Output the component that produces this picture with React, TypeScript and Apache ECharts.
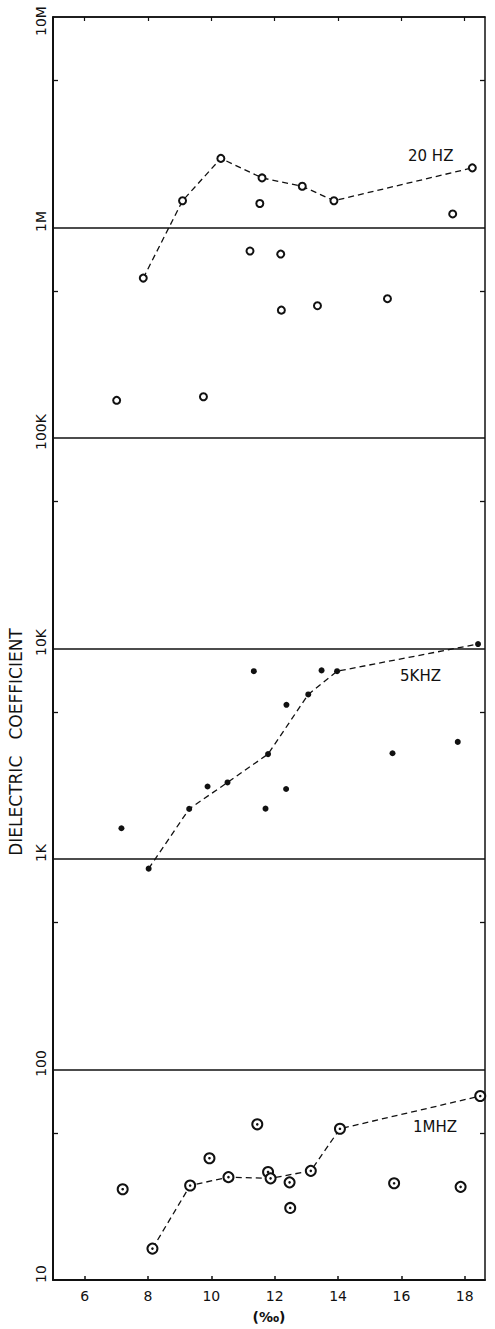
import React, { useEffect, useRef } from "react";
import * as echarts from "echarts";

const xTickValues = [6, 8, 10, 12, 14, 16, 18];
const yDecadeValues = [10, 100, 1000, 10000, 100000, 1000000, 10000000];
const yTickLabels = ["10", "100", "1K", "10K", "100K", "1M", "10M"];
const yMinorValues = [50, 500, 5000, 50000, 500000, 5000000];

const hz20Line = [[7.85, 575000], [9.09, 1340000], [10.3, 2130000], [11.6, 1720000], [12.87, 1570000], [13.87, 1340000], [18.24, 1920000]];
const hz20Other = [[11.53, 1300000], [17.62, 1160000], [11.22, 773000], [12.19, 748000], [12.21, 405000], [13.35, 425000], [15.56, 459000], [7.01, 151000], [9.75, 157000]];

const khz5Line = [[8.02, 900], [9.3, 1730], [10.51, 2310], [11.79, 3150], [13.06, 6050], [13.97, 7800], [18.42, 10500]];
const khz5Other = [[7.16, 1400], [9.88, 2210], [11.34, 7800], [13.48, 7870], [12.37, 5400], [11.71, 1735], [12.36, 2150], [15.72, 3180], [17.78, 3600]];

const mhz1Line = [[8.14, 14.1], [9.33, 28.1], [10.54, 30.8], [11.87, 30.4], [13.14, 33.0], [14.06, 52.3], [18.49, 74.8]];
const mhz1Other = [[7.2, 27.0], [9.94, 37.9], [11.45, 54.9], [11.79, 32.6], [12.47, 29.1], [12.49, 22.0], [15.77, 28.8], [17.87, 27.7]];

const seriesNames = ["20 HZ", "5KHZ", "1MHZ"];
const yTitle = "DIELECTRIC   COEFFICIENT";
const xTitle = "(‰)";

const INK = "#111";
const FONT = "DejaVu Sans";

export default function App() {
  const ref = useRef<HTMLDivElement>(null);
  useEffect(() => {
    if (!ref.current) return;
    const chart = echarts.init(ref.current, null, { renderer: "svg" });
    const yRange = { type: "log" as const, logBase: 10, min: 10, max: 10000000 };
    const dashed = { color: INK, width: 1.3, type: [6, 4] as number[] };
    const labelText = { color: INK, fontSize: 14, fontFamily: FONT };
    const option: any = {
      animation: false,
      backgroundColor: "#fff",
      grid: { left: 53, top: 17, width: 432, height: 1263, containLabel: false, outerBoundsMode: "none" },
      xAxis: [
        {
          type: "value", min: 5, max: 18.64, position: "bottom",
          axisLine: { show: true, lineStyle: { color: INK, width: 2 } },
          axisTick: { show: true, inside: true, length: 4, customValues: xTickValues, lineStyle: { color: INK, width: 1.5 } },
          axisLabel: { show: true, customValues: xTickValues, margin: 9, color: INK, fontSize: 14, fontFamily: FONT },
          splitLine: { show: false },
          name: xTitle, nameLocation: "middle", nameGap: 30,
          nameTextStyle: { color: INK, fontSize: 14, fontFamily: FONT, fontWeight: "bold" },
        },
        {
          type: "value", min: 5, max: 18.64, position: "top",
          axisLine: { show: true, lineStyle: { color: INK, width: 1.5 } },
          axisTick: { show: true, inside: true, length: 4, customValues: xTickValues, lineStyle: { color: INK, width: 1.2 } },
          axisLabel: { show: false },
          splitLine: { show: false },
        },
      ],
      yAxis: [
        {
          ...yRange, position: "left",
          axisLine: { show: true, lineStyle: { color: INK, width: 2 } },
          axisTick: { show: false },
          axisLabel: {
            show: true, customValues: yDecadeValues, rotate: 90, align: "center", margin: 5,
            ...labelText,
            formatter: (v: number) => {
              const i = Math.round(Math.log10(v)) - 1;
              const t = yTickLabels[i] ?? "";
              return i === yTickLabels.length - 1 ? `{top|${t}}` : `{n|${t}}`;
            },
            rich: {
              n: { ...labelText, padding: [0, 0, 0, 12] },
              top: { ...labelText, padding: [0, 8, 0, 0] },
            },
          },
          splitLine: { show: true, lineStyle: { color: INK, width: 1.5, type: "solid" } },
        },
        {
          ...yRange, position: "left",
          axisLine: { show: false },
          axisTick: { show: true, inside: true, length: 5, customValues: yMinorValues, lineStyle: { color: INK, width: 1.3 } },
          axisLabel: { show: false },
          splitLine: { show: false },
        },
        {
          ...yRange, position: "right",
          axisLine: { show: true, lineStyle: { color: INK, width: 1.5 } },
          axisTick: { show: true, inside: true, length: 5, customValues: yMinorValues, lineStyle: { color: INK, width: 1.3 } },
          axisLabel: { show: false },
          splitLine: { show: false },
        },
      ],
      series: [
        {
          name: seriesNames[0], type: "line", data: hz20Line, lineStyle: dashed,
          symbol: "emptyCircle", symbolSize: 7, itemStyle: { color: INK, borderColor: INK, borderWidth: 1.5 },
        },
        {
          name: seriesNames[0], type: "scatter", data: hz20Other,
          symbol: "emptyCircle", symbolSize: 7, itemStyle: { color: INK, borderColor: INK, borderWidth: 1.5, opacity: 1 },
        },
        {
          name: seriesNames[1], type: "line", data: khz5Line, lineStyle: dashed,
          symbol: "circle", symbolSize: 6, itemStyle: { color: INK },
        },
        {
          name: seriesNames[1], type: "scatter", data: khz5Other,
          symbol: "circle", symbolSize: 6, itemStyle: { color: INK, opacity: 1 },
        },
        {
          name: seriesNames[2], type: "line", data: mhz1Line, lineStyle: dashed,
          symbol: "emptyCircle", symbolSize: 10, itemStyle: { color: INK, borderColor: INK, borderWidth: 1.8 },
        },
        {
          name: seriesNames[2], type: "scatter", data: mhz1Other,
          symbol: "emptyCircle", symbolSize: 10, itemStyle: { color: INK, borderColor: INK, borderWidth: 1.8, opacity: 1 },
        },
        {
          name: seriesNames[2] + " centre", type: "scatter", data: [...mhz1Line, ...mhz1Other], z: 5,
          symbol: "circle", symbolSize: 2.6, itemStyle: { color: INK, opacity: 1 },
        },
      ],
      graphic: [
        {
          type: "text", x: 16, y: 742, rotation: Math.PI / 2,
          style: { text: yTitle, fill: INK, fontSize: 17, fontFamily: FONT, align: "center", verticalAlign: "middle" },
        },
        {
          type: "text", x: 408, y: 156,
          style: { text: seriesNames[0], fill: INK, fontSize: 15, fontFamily: FONT, align: "left", verticalAlign: "middle" },
        },
        {
          type: "text", x: 400, y: 676,
          style: { text: seriesNames[1], fill: INK, fontSize: 15, fontFamily: FONT, align: "left", verticalAlign: "middle" },
        },
        {
          type: "text", x: 413, y: 1127,
          style: { text: seriesNames[2], fill: INK, fontSize: 15, fontFamily: FONT, align: "left", verticalAlign: "middle" },
        },
      ],
    };
    chart.setOption(option);
    return () => chart.dispose();
  }, []);
  return (
    <div style={{ position: "absolute", left: 0, top: 0, width: 495, height: 1329, background: "#fff" }}>
      <div ref={ref} style={{ width: 495, height: 1329 }} />
    </div>
  );
}
